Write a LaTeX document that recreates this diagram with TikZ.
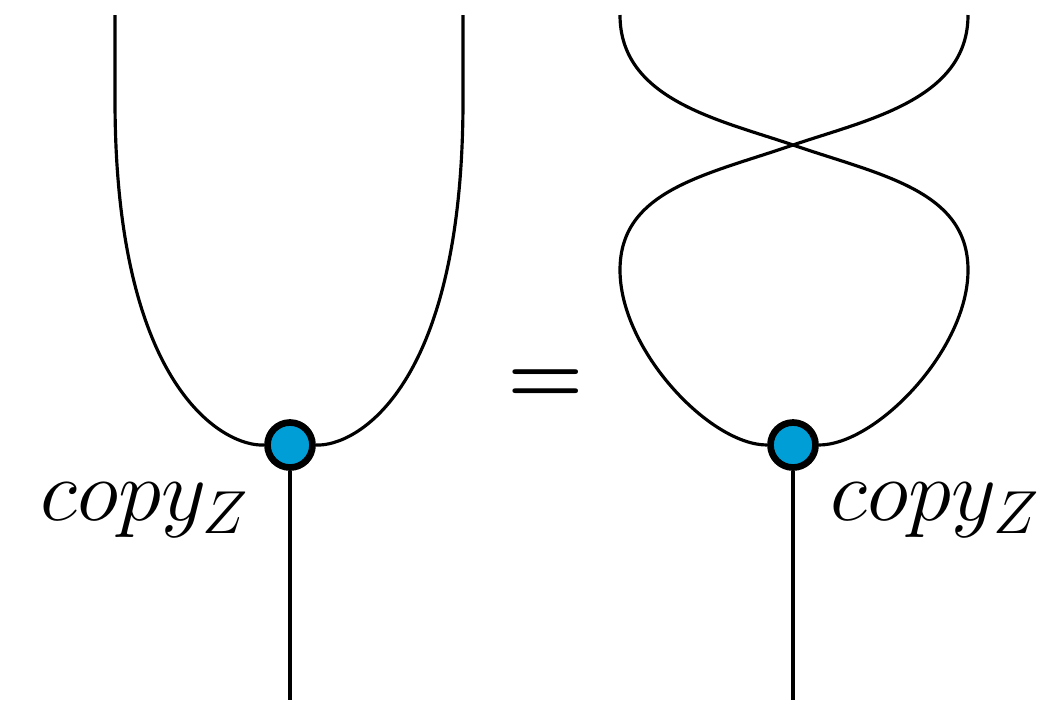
\documentclass[tikz,border=0pt]{standalone}
\usepackage{amsmath,amssymb}
\usepackage{xcolor}
\usepackage{tikz}
\usetikzlibrary{positioning,calc}

\definecolor{spiderblue}{RGB}{0,158,214}
\tikzset{
  wire/.style={line width=0.9pt},
  spider/.style={circle,draw=black,line width=1.9pt,fill=spiderblue,minimum size=0.45cm,inner sep=0pt},
  lbl/.style={font=\fontsize{25}{30}\selectfont}
}

\begin{document}
\begin{tikzpicture}[x=0.01cm,y=-0.01cm]
\useasboundingbox (0,0) rectangle (1055,705);
% left side: plain copy
\node[spider] (cl) at (290,445) {};
\coordinate (tl1) at (115,15);
\coordinate (tl2) at (463,15);
\coordinate (bl) at (290,700);
\draw[wire] (tl1) -- (115,100) .. controls (115,390) and (225,447) .. (cl.west);
\draw[wire] (tl2) -- (463,100) .. controls (463,390) and (355,447) .. (cl.east);
\draw[wire] (cl.south) -- (bl);
\node[lbl] (ll) at (145,510) {$copy_Z$};
% equals
\node[lbl] (eq) at (546,387) {$\boldsymbol{=}$};
% right side: copy then swap
\node[spider] (cr) at (793,445) {};
\coordinate (tr1) at (620,15);
\coordinate (tr2) at (968,15);
\coordinate (br) at (793,700);
\draw[wire] (tr1) .. controls (620,100) and (720,120) .. (793,145)
  .. controls (880,175) and (968,190) .. (968,270)
  .. controls (968,350) and (876,445) .. (cr.east);
\draw[wire] (tr2) .. controls (968,100) and (866,120) .. (793,145)
  .. controls (706,175) and (620,190) .. (620,270)
  .. controls (620,350) and (710,445) .. (cr.west);
\draw[wire] (cr.south) -- (br);
\node[lbl] (lr) at (935,510) {$copy_Z$};
\end{tikzpicture}
\end{document}
